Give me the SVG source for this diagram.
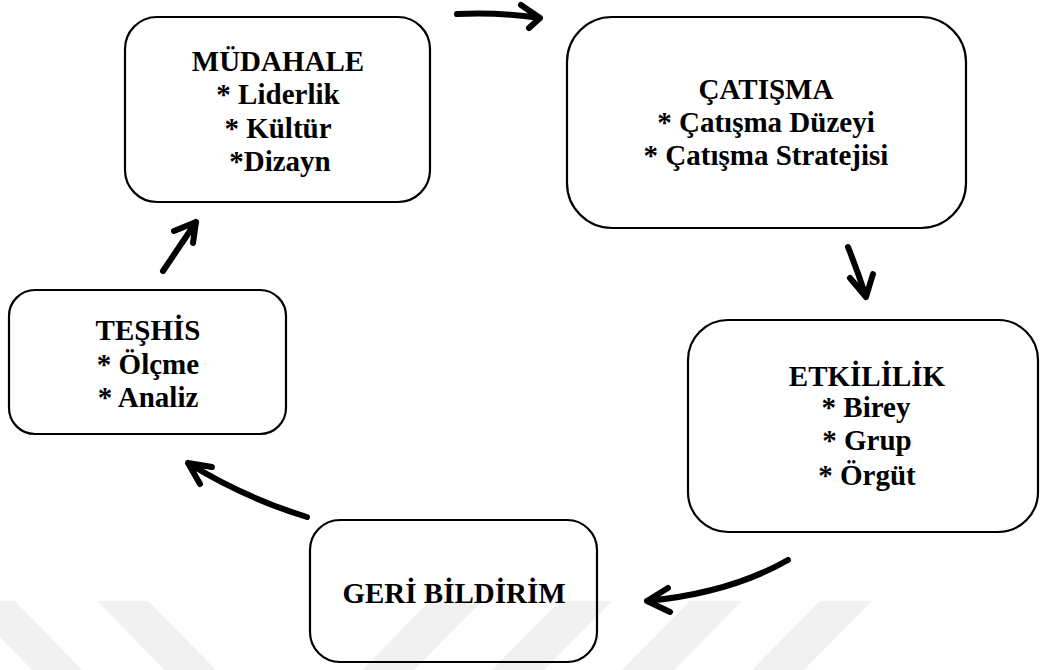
<svg xmlns="http://www.w3.org/2000/svg" width="1041" height="670" viewBox="0 0 1041 670">
<style>
.box{fill:none;stroke:#000;stroke-width:2.2}
.t{font-family:'Liberation Serif','Times New Roman',Times,'DejaVu Serif',serif;font-weight:700;font-size:29px;fill:#000;text-anchor:middle}
.arr{fill:none;stroke:#000;stroke-width:6;stroke-linecap:round;stroke-linejoin:round}
.wm{fill:#f1f1f1}
</style>
<rect width="1041" height="670" fill="#fff"/>
<g id="watermark">
<polygon class="wm" points="-35,601 15,601 82,670 32,670"/>
<polygon class="wm" points="97,601 148,601 216,670 165,670"/>
<polygon class="wm" points="430,601 482,601 414,670 362,670"/>
<polygon class="wm" points="560,601 612,601 544,670 492,670"/>
<polygon class="wm" points="690,601 742,601 674,670 622,670"/>
<polygon class="wm" points="820,601 872,601 804,670 752,670"/>
</g>
<g id="connectors">
<path class="arr" d="M457,14 Q500,12 540,18 M521,5 L540,18 L529,28"/>
<path class="arr" d="M848,247 Q858,272 866,297 M850,278 L866,297 L873,274"/>
<path class="arr" d="M788,560 Q730,593 647,601 M668,588 L647,601 L670,612"/>
<path class="arr" d="M307,517 Q245,498 188,463 M212,467 L188,463 L200,484"/>
<path class="arr" d="M163,271 L196,222 M174,231 L196,222 L193,243"/>
</g>
<g id="mudahale">
<rect class="box" x="125" y="17" width="305" height="185" rx="32"/>
<text class="t" x="278" y="71" font-family="Liberation Serif, serif">MÜDAHALE</text>
<text class="t" x="278" y="104" font-family="Liberation Serif, serif">* Liderlik</text>
<text class="t" x="278" y="138" font-family="Liberation Serif, serif">* Kültür</text>
<text class="t" x="280" y="171" font-family="Liberation Serif, serif">*Dizayn</text>
</g>
<g id="catisma">
<rect class="box" x="567" y="17" width="399" height="211" rx="45"/>
<text class="t" x="766" y="99">ÇATIŞMA</text>
<text class="t" x="766" y="132">* Çatışma Düzeyi</text>
<text class="t" x="766" y="165">* Çatışma Stratejisi</text>
</g>
<g id="etkililik">
<rect class="box" x="688" y="320" width="350" height="212" rx="40"/>
<text class="t" x="867" y="386">ETKİLİLİK</text>
<text class="t" x="866" y="417">* Birey</text>
<text class="t" x="867" y="450">* Grup</text>
<text class="t" x="867" y="485">* Örgüt</text>
</g>
<g id="geribildirim">
<rect class="box" x="310" y="520" width="287" height="142" rx="30"/>
<text class="t" x="454" y="603">GERİ BİLDİRİM</text>
</g>
<g id="teshis">
<rect class="box" x="9" y="290" width="277" height="144" rx="26"/>
<text class="t" x="148" y="340">TEŞHİS</text>
<text class="t" x="148" y="374">* Ölçme</text>
<text class="t" x="148" y="407">* Analiz</text>
</g>
</svg>
